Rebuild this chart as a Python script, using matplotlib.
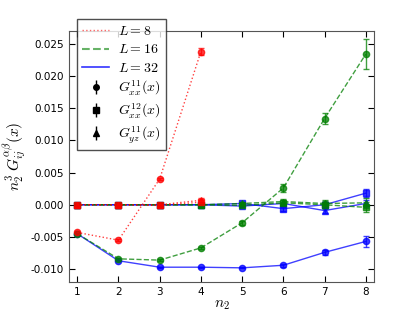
import numpy as np
import matplotlib
matplotlib.use('Agg')
import matplotlib.pyplot as plt
from matplotlib.lines import Line2D

# ── data ─────────────────────────────────────────────────────────────────────
n8  = [1, 2, 3, 4]
n16 = [1, 2, 3, 4, 5, 6, 7, 8]
n32 = [1, 2, 3, 4, 5, 6, 7, 8]

# L = 8
g11_8   = [-0.0043, -0.0055, 0.0040, 0.0238]
g11_8e  = [0.0002, 0.0002, 0.0002, 0.0005]
g12_8   = [0.0000, 0.0000, -0.0001, 0.0004]
g12_8e  = [0.0001, 0.0001, 0.0001, 0.0004]
gyz_8   = [0.0000, 0.0000, 0.0000, 0.0007]
gyz_8e  = [0.0001, 0.0001, 0.0001, 0.0004]

# L = 16
g11_16  = [-0.0045, -0.0084, -0.0086, -0.0067, -0.0028, 0.0026, 0.0134, 0.0234]
g11_16e = [0.0001, 0.0002, 0.0002, 0.0002, 0.0003, 0.0006, 0.0009, 0.0023]
g12_16  = [0.0000, 0.0000, 0.0000, 0.0000, -0.0001, 0.0003, 0.0000, -0.0004]
g12_16e = [0.0001, 0.0001, 0.0001, 0.0002, 0.0003, 0.0004, 0.0006, 0.0008]
gyz_16  = [0.0000, 0.0000, 0.0000, 0.0000, 0.0002, 0.0005, 0.0002, 0.0003]
gyz_16e = [0.0001, 0.0001, 0.0001, 0.0002, 0.0003, 0.0004, 0.0006, 0.0008]

# L = 32
g11_32  = [-0.0045, -0.0087, -0.0097, -0.0097, -0.0098, -0.0094, -0.0074, -0.0057]
g11_32e = [0.0001, 0.0001, 0.0001, 0.0001, 0.0001, 0.0002, 0.0004, 0.0008]
g12_32  = [0.0000, 0.0000, 0.0000, 0.0000, 0.0002, -0.0006, 0.0000, 0.0018]
g12_32e = [0.0001, 0.0001, 0.0001, 0.0001, 0.0002, 0.0003, 0.0004, 0.0006]
gyz_32  = [0.0000, 0.0000, 0.0000, 0.0000, -0.0002, 0.0002, -0.0009, 0.0002]
gyz_32e = [0.0001, 0.0001, 0.0001, 0.0001, 0.0002, 0.0003, 0.0004, 0.0006]

plt.rcParams['mathtext.fontset'] = 'cm'

fig = plt.figure(figsize=(4.15, 3.14), dpi=100)
ax = fig.add_axes([69/415, 1 - 282/314, (374-69)/415, (282-31)/314])

def series(x, y, e, color, ls, marker, mfc):
    ax.errorbar(x, y, yerr=e, color=color, ls=ls, lw=1.0, marker=marker,
                ms=4.5, mfc=mfc, mec=color, ecolor=color, elinewidth=1.0,
                capsize=2.5, alpha=0.75)

blue, green, red = '#0000ff', '#007f00', '#ff0000'
for col, ls, n, d in [
        (blue,  '-',  n32, [(g11_32, g11_32e, 'o'), (g12_32, g12_32e, 's'), (gyz_32, gyz_32e, '^')]),
        (green, '--', n16, [(g11_16, g11_16e, 'o'), (g12_16, g12_16e, 's'), (gyz_16, gyz_16e, '^')]),
        (red,   ':',  n8,  [(g11_8,  g11_8e,  'o'), (g12_8,  g12_8e,  's'), (gyz_8,  gyz_8e,  '^')])]:
    for y, e, m in d:
        series(n, y, e, col, ls, m, col)

ax.set_xlim(0.8, 8.2)
ax.set_ylim(-0.012, 0.027)
ax.set_xticks(range(1, 9))
ax.set_yticks([-0.010, -0.005, 0.0, 0.005, 0.010, 0.015, 0.020, 0.025])
ax.yaxis.set_major_formatter(matplotlib.ticker.FormatStrFormatter('%.3f'))
ax.tick_params(direction='in', top=True, right=True, labelsize=7.5, length=4)
for s in ax.spines.values():
    s.set_color('#555555')

ax.set_xlabel(r'$n_2$', fontsize=11, labelpad=0)
ax.set_ylabel(r'$n_2^3\;G_{ij}^{\alpha\beta}(x)$', fontsize=11, labelpad=2)

# legend handles
h = [Line2D([], [], color=red, ls=':', lw=1.0, alpha=0.6),
     Line2D([], [], color=green, ls='--', lw=1.5, alpha=0.6),
     Line2D([], [], color=blue, ls='-', lw=1.2, alpha=0.8)]
for m in ['o', 's', '^']:
    h.append(ax.errorbar([], [], yerr=[], fmt=m, color='k', ms=4, capsize=2.5, elinewidth=1.0))
labels = [r'$L=8$', r'$L=16$', r'$L=32$',
          r'$G_{xx}^{11}(x)$', r'$G_{xx}^{12}(x)$', r'$G_{yz}^{11}(x)$']
leg = ax.legend(h, labels, loc='upper left', bbox_to_anchor=(0.005, 1.074),
                fontsize=10, frameon=True, fancybox=False, borderpad=0.35,
                labelspacing=0.3, handlelength=1.9, handletextpad=0.7)
leg.get_frame().set_edgecolor('#222222')
leg.get_frame().set_linewidth(1.0)

fig.savefig('out.png', dpi=100)
